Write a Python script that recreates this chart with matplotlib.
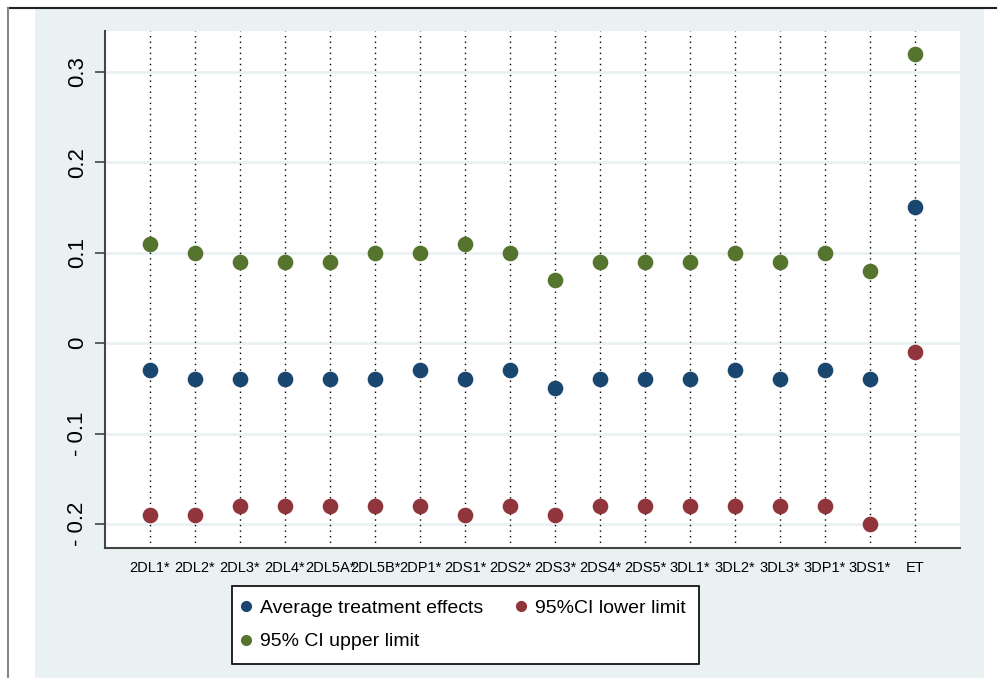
import matplotlib
matplotlib.use("Agg")
import matplotlib.pyplot as plt
from matplotlib.patches import Rectangle
from matplotlib.lines import Line2D

plt.rcParams['font.family'] = ['Liberation Sans', 'DejaVu Sans']

categories = ["2DL1*", "2DL2*", "2DL3*", "2DL4*", "2DL5A*", "2DL5B*", "2DP1*", "2DS1*", "2DS2*",
              "2DS3*", "2DS4*", "2DS5*", "3DL1*", "3DL2*", "3DL3*", "3DP1*", "3DS1*", "ET"]
ate = [-0.03, -0.04, -0.04, -0.04, -0.04, -0.04, -0.03, -0.04, -0.03,
       -0.05, -0.04, -0.04, -0.04, -0.03, -0.04, -0.03, -0.04, 0.15]
lower = [-0.19, -0.19, -0.18, -0.18, -0.18, -0.18, -0.18, -0.19, -0.18,
         -0.19, -0.18, -0.18, -0.18, -0.18, -0.18, -0.18, -0.20, -0.01]
upper = [0.11, 0.10, 0.09, 0.09, 0.09, 0.10, 0.10, 0.11, 0.10,
         0.07, 0.09, 0.09, 0.09, 0.10, 0.09, 0.10, 0.08, 0.32]
yticks = [-0.2, -0.1, 0.0, 0.1, 0.2, 0.3]
ytick_labels = ["- 0.2", "- 0.1", "0", "0.1", "0.2", "0.3"]

c_ate = "#1a476f"
c_low = "#90353b"
c_up = "#55752f"
panel = "#eaf1f3"

W, H = 997, 678
fig = plt.figure(figsize=(W / 100, H / 100), dpi=100, facecolor="white")

# background panel and screenshot frame
fig.add_artist(Rectangle((35 / W, 0), (984 - 35) / W, (H - 9) / H, transform=fig.transFigure,
                         facecolor=panel, edgecolor="none", zorder=0))
fig.add_artist(Line2D([8 / W, 1], [1 - 8 / H, 1 - 8 / H], transform=fig.transFigure,
                      color="#222222", lw=1.5))
fig.add_artist(Line2D([8 / W, 8 / W], [0, 1 - 8 / H], transform=fig.transFigure,
                      color="#888888", lw=1.5))

ax = fig.add_axes([105 / W, (H - 548) / H, (960 - 105) / W, (548 - 31) / H])
ax.set_facecolor("white")

x = list(range(1, len(categories) + 1))
ax.set_xlim(0, len(categories) + 1)
ax.set_ylim(-0.2265, 0.345)

for yv in yticks:
    ax.axhline(yv, color=panel, lw=2, zorder=1)
for xv in x:
    ax.axvline(xv, color="black", lw=1, ls=(0, (1, 3)), zorder=2)

ax.scatter(x, ate, s=105, color=c_ate, zorder=3, label="Average treatment effects")
ax.scatter(x, lower, s=105, color=c_low, zorder=3, label="95%CI lower limit")
ax.scatter(x, upper, s=105, color=c_up, zorder=3, label="95% CI upper limit")

ax.set_xticks(x)
ax.set_xticklabels(categories, fontsize=10.5)
ax.tick_params(axis="x", length=0, pad=9.5)
ax.set_yticks(yticks)
ax.set_yticklabels(ytick_labels, fontsize=16, rotation=90, va="center")
ax.tick_params(axis="y", length=7, width=1.2, color="#444444", pad=5)

for s in ["top", "right"]:
    ax.spines[s].set_visible(False)
for s in ["left", "bottom"]:
    ax.spines[s].set_color("#444444")
    ax.spines[s].set_linewidth(1.5)

handles = [
    Line2D([], [], marker="o", ls="none", color=c_ate, markersize=7, label="Average treatment effects"),
    Line2D([], [], marker="o", ls="none", color=c_up, markersize=7, label="95% CI upper limit"),
    Line2D([], [], marker="o", ls="none", color=c_low, markersize=7, label="95%CI lower limit"),
]
leg = fig.legend(handles=handles, ncol=2, loc="upper left",
                 bbox_to_anchor=(232 / W, 1 - 586 / H), fontsize=14,
                 frameon=True, fancybox=False, edgecolor="black", framealpha=1,
                 handletextpad=0.7, columnspacing=1.9, handlelength=0.05,
                 borderpad=0.7, labelspacing=0.8, borderaxespad=0)
leg.get_frame().set_linewidth(1.2)

fig.savefig("out.png", dpi=100, facecolor="white")
